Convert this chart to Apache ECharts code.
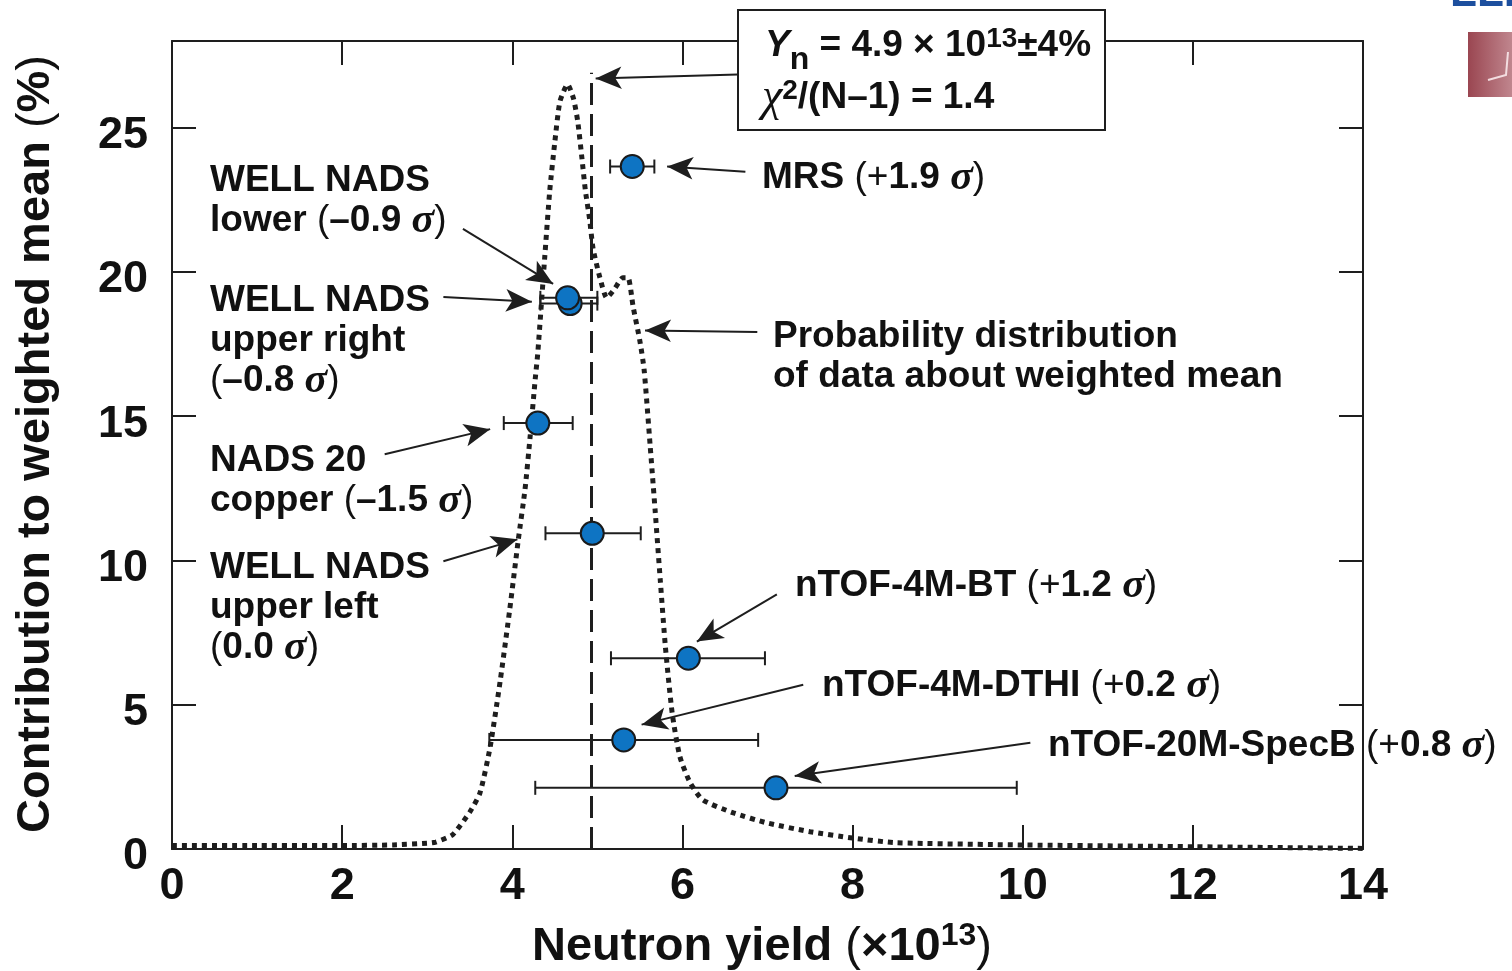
<!DOCTYPE html>
<html><head><meta charset="utf-8">
<script src="https://cdn.jsdelivr.net/npm/echarts@6/dist/echarts.min.js"></script>
<style>html,body{margin:0;padding:0;background:#fff}#c{width:1512px;height:971px}</style>
</head><body><div id="c"></div>
<script>
// ---------- data ----------
const xTicks = [0, 2, 4, 6, 8, 10, 12, 14];
const yTicks = [0, 5, 10, 15, 20, 25];
const measNames = ['WELL NADS lower', 'WELL NADS upper right', 'NADS 20 copper', 'WELL NADS upper left', 'MRS', 'nTOF-4M-BT', 'nTOF-4M-DTHI', 'nTOF-20M-SpecB'];
const measX    = [4.68, 4.65, 4.30, 4.94, 5.41, 6.07, 5.31, 7.10];
const measY    = [18.9, 19.1, 14.76, 10.94, 23.65, 6.61, 3.78, 2.12];
const measLow  = [4.33, 4.33, 3.90, 4.39, 5.15, 5.16, 3.73, 4.27];
const measHigh = [5.00, 5.00, 4.71, 5.51, 5.67, 6.97, 6.89, 9.93];
const weightedMean = 4.93;
const distX = [0, 1, 2, 2.6, 3.0, 3.1, 3.3, 3.5, 3.62, 3.74, 3.86, 3.97, 4.07, 4.15, 4.21, 4.27, 4.30, 4.38, 4.44, 4.50, 4.56, 4.65, 4.72, 4.77, 4.82, 4.86, 4.91, 4.95, 5.03, 5.11, 5.20, 5.30, 5.36, 5.42, 5.50, 5.55, 5.62, 5.68, 5.74, 5.80, 5.88, 5.97, 6.09, 6.24, 6.60, 7.0, 7.5, 8.0, 8.5, 10, 12, 14];
const distY = [0.12, 0.12, 0.12, 0.14, 0.2, 0.24, 0.5, 1.28, 1.94, 3.54, 5.87, 8.3, 10.7, 12.47, 14.3, 16.3, 17.2, 20.45, 22.8, 24.5, 25.9, 26.5, 26.0, 25.2, 23.9, 22.8, 21.8, 20.8, 19.8, 19.1, 19.4, 19.8, 19.8, 18.8, 17.6, 16.6, 14.0, 11.7, 9.3, 7.0, 4.7, 3.2, 2.3, 1.7, 1.25, 0.9, 0.6, 0.38, 0.22, 0.14, 0.08, 0.02];
// arrows: [fromX, fromY, toX, toY] in data units
const arrows = [
  [6.65, 26.84, 4.98, 26.70],
  [6.74, 23.47, 5.82, 23.65],
  [3.42, 21.49, 4.48, 19.58],
  [3.19, 19.13, 4.23, 18.96],
  [6.88, 17.92, 5.56, 17.97],
  [2.50, 13.68, 3.74, 14.55],
  [3.19, 9.97, 4.06, 10.73],
  [7.11, 8.82, 6.17, 7.19],
  [7.42, 5.69, 5.52, 4.31],
  [10.09, 3.68, 7.32, 2.53]
];
// ---------- chart ----------
const FONT = 'Liberation Sans, Arial, Helvetica, sans-serif';
const INK = '#1e1e1e';
const chart = echarts.init(document.getElementById('c'), null, {renderer: 'canvas'});
const axisCommon = {
  type: 'value',
  axisLine: {show: true, onZero: false, lineStyle: {color: INK, width: 2}},
  axisTick: {show: true, inside: true, length: 24, lineStyle: {color: INK, width: 2}},
  splitLine: {show: false}
};
const labelStyle = {fontFamily: FONT, fontWeight: 'bold', fontSize: 45, color: '#111'};
const measData = measX.map((x, i) => [x, measY[i], measLow[i], measHigh[i], measNames[i]]);
const distData = distX.map((x, i) => [x, distY[i]]);
chart.setOption({
  animation: false,
  backgroundColor: '#fff',
  grid: {left: 172, right: 149, top: 41, bottom: 122, containLabel: false},
  xAxis: [
    Object.assign({}, axisCommon, {min: xTicks[0], max: xTicks[xTicks.length - 1], interval: 2, position: 'bottom',
      axisLabel: Object.assign({margin: 15}, labelStyle)}),
    Object.assign({}, axisCommon, {min: xTicks[0], max: xTicks[xTicks.length - 1], interval: 2, position: 'top',
      axisLabel: {show: false}})
  ],
  yAxis: [
    Object.assign({}, axisCommon, {min: 0, max: 28, interval: 5, position: 'left',
      axisLabel: Object.assign({margin: 24,
        formatter: v => yTicks.indexOf(v) >= 0 ? '{d|' + v + '}' : '',
        rich: {d: {fontFamily: FONT, fontWeight: 'bold', fontSize: 45, color: '#111', padding: [16, 0, 0, 0]}}
      }, labelStyle)}),
    Object.assign({}, axisCommon, {min: 0, max: 28, interval: 5, position: 'right',
      axisLabel: {show: false}})
  ],
  series: [
    {
      type: 'line', name: 'dist', data: distData, showSymbol: false, symbol: 'none', smooth: 0.2,
      lineStyle: {color: INK, width: 5, type: [5, 5], cap: 'butt'}, z: 3, silent: true,
      markLine: {
        silent: true, animation: false,
        label: {show: false},
        lineStyle: {color: INK, width: 2, type: 'solid'},
        data: arrows.map(a => [
          {coord: [a[0], a[1]], symbol: 'none'},
          {coord: [a[2], a[3]], symbol: 'arrow', symbolSize: [17, 26]}
        ])
      }
    },
    {
      type: 'line', name: 'mean', data: [], silent: true,
      markLine: {
        silent: true, animation: false, symbol: 'none', label: {show: false},
        lineStyle: {color: INK, width: 3, type: [22, 9]},
        data: [[{coord: [weightedMean, 0]}, {coord: [weightedMean, 26.9]}]]
      }
    },
    {
      type: 'custom', name: 'err', data: measData, z: 4, silent: true,
      encode: {x: [2, 3], y: 1},
      renderItem: function (params, api) {
        const y = api.value(1);
        const lo = api.coord([api.value(2), y]);
        const hi = api.coord([api.value(3), y]);
        const h = 7;
        const st = {stroke: INK, lineWidth: 2};
        return {type: 'group', children: [
          {type: 'line', shape: {x1: lo[0], y1: lo[1], x2: hi[0], y2: hi[1]}, style: st},
          {type: 'line', shape: {x1: lo[0], y1: lo[1] - h, x2: lo[0], y2: lo[1] + h}, style: st},
          {type: 'line', shape: {x1: hi[0], y1: hi[1] - h, x2: hi[0], y2: hi[1] + h}, style: st}
        ]};
      }
    },
    {
      type: 'scatter', name: 'meas', data: measData, z: 5, symbol: 'circle', symbolSize: 23,
      encode: {x: 0, y: 1},
      itemStyle: {color: '#0e74c3', borderColor: '#1a1a1a', borderWidth: 2, opacity: 1}
    }
  ]
});

// ---------- annotations ----------
const rich = {
  s: {fontFamily: 'Liberation Serif, DejaVu Serif, serif', fontStyle: 'italic', fontWeight: 'bold', fontSize: 42, fill: '#111'},
  p: {fontFamily: FONT, fontWeight: 'normal', fontSize: 37, fill: '#111'},
  sup: {fontFamily: FONT, fontWeight: 'bold', fontSize: 28, fill: '#111', padding: [0, 0, 14, 0]},
  sub: {fontFamily: FONT, fontWeight: 'bold', fontSize: 32, fill: '#111', padding: [28, 0, 0, 0]},
  yi: {fontFamily: FONT, fontStyle: 'italic', fontWeight: 'bold', fontSize: 37, fill: '#111'},
  chi: {fontFamily: 'Liberation Serif, DejaVu Serif, serif', fontStyle: 'italic', fontWeight: 'normal', fontSize: 46, fill: '#111'},
  xsup: {fontFamily: FONT, fontWeight: 'bold', fontSize: 32, fill: '#111', padding: [0, 0, 22, 0]},
  xp: {fontFamily: FONT, fontWeight: 'normal', fontSize: 47, fill: '#111'}
};
function T(x, y, text, size, extra) {
  return Object.assign({
    type: 'text', x: x, y: y, z: 110, silent: true,
    style: {text: text, rich: rich, fontFamily: FONT, fontWeight: 'bold', fontSize: size || 37, fill: '#111',
      align: 'left', verticalAlign: 'middle'}
  }, extra || {});
}
const LH = 40;
const labels = [
  [210, 181, ['WELL NADS', 'lower {p|(}–0.9 {s|σ}{p|)}']],
  [210, 301, ['WELL NADS', 'upper right', '{p|(}–0.8 {s|σ}{p|)}']],
  [210, 461, ['NADS 20', 'copper {p|(}–1.5 {s|σ}{p|)}']],
  [210, 568, ['WELL NADS', 'upper left', '{p|(}0.0 {s|σ}{p|)}']],
  [762, 178, ['MRS {p|(+}1.9 {s|σ}{p|)}']],
  [773, 337, ['Probability distribution', 'of data about weighted mean']],
  [795, 586, ['nTOF-4M-BT {p|(+}1.2 {s|σ}{p|)}']],
  [822, 686, ['nTOF-4M-DTHI {p|(+}0.2 {s|σ}{p|)}']],
  [1048, 746, ['nTOF-20M-SpecB {p|(+}0.8 {s|σ}{p|)}']]
];
const graphics = [];
labels.forEach(l => l[2].forEach((line, k) => graphics.push(T(l[0], l[1] + k * LH, line))));
// result box
graphics.push({type: 'rect', z: 100, silent: true, shape: {x: 738, y: 10, width: 367, height: 120},
  style: {fill: '#fff', stroke: INK, lineWidth: 2}});
graphics.push(T(765, 46, '{yi|Y}{sub|n} = 4.9 × 10{sup|13}±4%'));
graphics.push(T(762, 98, '{chi|χ}{sup|2}/(N–1) = 1.4'));
// axis titles
graphics.push(T(532, 947, 'Neutron yield {xp|(}×10{xsup|13}{xp|)}', 47, {}));
graphics.push({type: 'text', x: 36, y: 444, rotation: Math.PI / 2, z: 110, silent: true,
  style: {text: 'Contribution to weighted mean {xp|(}%{xp|)}', rich: rich, fontFamily: FONT, fontWeight: 'bold',
    fontSize: 47, fill: '#111', align: 'center', verticalAlign: 'middle'}});
// corner logo fragment
graphics.push({type: 'rect', z: 100, silent: true, shape: {x: 1468, y: 32, width: 44, height: 65},
  style: {fill: new echarts.graphic.LinearGradient(0, 0, 1, 0, [{offset: 0, color: '#9a4651'}, {offset: 1, color: '#c0868e'}])}});
graphics.push({type: 'polyline', z: 101, silent: true, shape: {points: [[1488, 80], [1506, 75], [1508, 52]]},
  style: {stroke: '#f3dde0', lineWidth: 2, fill: null}});
graphics.push({type: 'text', x: 1450, y: 16, z: 101, silent: true,
  style: {text: 'LLE', fontFamily: FONT, fontWeight: 'bold', fontSize: 44, fill: '#1d4f9e', align: 'left', verticalAlign: 'bottom'}});
chart.setOption({graphic: graphics});
</script>
</body></html>
